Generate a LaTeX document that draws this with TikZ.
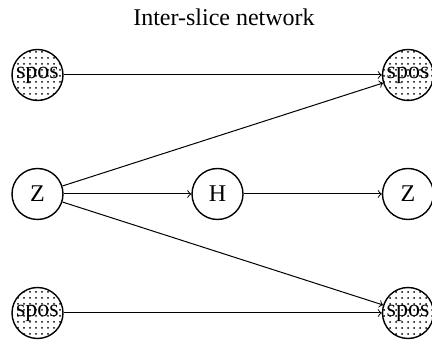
\documentclass[tikz,border=0pt,12pt]{standalone}
\usepackage{fontspec}
\setmainfont{Liberation Serif}
\usepackage{tikz}
\usetikzlibrary{patterns}

\begin{document}
\begin{tikzpicture}[x=1pt,y=1pt,
    var/.style={circle,draw,line width=0.7pt,minimum size=25.5pt,inner sep=0pt},
    obs/.style={var,pattern=dots},
    edge/.style={->,line width=0.5pt}]
  \useasboundingbox (0,0) rectangle (216,-170);
  \node (title) at (112,-8.5) {Inter-slice network};
  % slice t
  \node[obs] (s1) at (18.75,-37.5) {spos};
  \node[var] (z1) at (18.75,-97) {Z};
  \node[obs] (s3) at (18.75,-156.5) {spos};
  \node[var] (h) at (108.75,-97) {H};
  % slice t+1
  \node[obs] (s1n) at (204,-37.5) {spos};
  \node[var] (z2) at (204,-97) {Z};
  \node[obs] (s3n) at (204,-156.5) {spos};
  % edges
  \draw[edge] (s1) -- (s1n);
  \draw[edge] (z1) -- (s1n);
  \draw[edge] (z1) -- (h);
  \draw[edge] (h) -- (z2);
  \draw[edge] (z1) -- (s3n);
  \draw[edge] (s3) -- (s3n);
\end{tikzpicture}
\end{document}
